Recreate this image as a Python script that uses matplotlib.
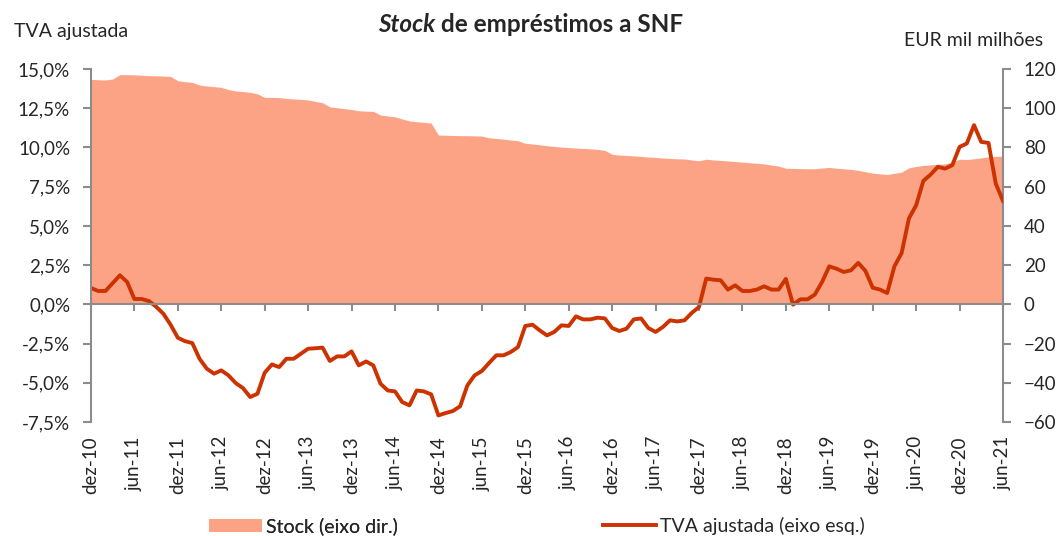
import matplotlib
matplotlib.use("Agg")
import matplotlib.pyplot as plt
from matplotlib.lines import Line2D
from matplotlib.patches import Patch
import matplotlib.transforms as mtransforms

plt.rcParams['font.family'] = ['Lato', 'DejaVu Sans']

# monthly data, dez-10 .. jun-21
months = list(range(127))
tick_pos = list(range(0, 127, 6))
tick_labels = ['dez-10', 'jun-11', 'dez-11', 'jun-12', 'dez-12', 'jun-13', 'dez-13',
               'jun-14', 'dez-14', 'jun-15', 'dez-15', 'jun-16', 'dez-16', 'jun-17',
               'dez-17', 'jun-18', 'dez-18', 'jun-19', 'dez-19', 'jun-20', 'dez-20', 'jun-21']

# stock (EUR mil milhoes, right axis)
stock = [114.7, 114.5, 114.4, 114.9, 117.1, 117.1, 117.0, 116.8, 116.6, 116.5,
         116.4, 116.2, 114.0, 113.5, 113.2, 111.8, 111.3, 111.0, 110.6, 109.5,
         108.8, 108.5, 108.1, 107.3, 105.5, 105.5, 105.4, 105.0, 104.7, 104.5,
         104.2, 103.5, 102.8, 100.7, 100.2, 99.8, 99.3, 98.7, 98.5, 98.4,
         96.5, 96.0, 95.6, 94.5, 93.5, 93.1, 92.8, 92.4, 86.3, 86.2,
         86.1, 86.0, 86.0, 85.9, 85.8, 84.9, 84.6, 84.2, 83.8, 83.4,
         82.1, 81.8, 81.3, 80.9, 80.5, 80.2, 79.9, 79.7, 79.5, 79.3,
         79.0, 78.5, 76.5, 76.1, 75.9, 75.7, 75.4, 75.1, 74.9, 74.6,
         74.4, 74.2, 74.1, 73.6, 73.2, 74.0, 73.6, 73.4, 73.1, 72.8,
         72.5, 72.2, 71.9, 71.6, 71.0, 70.5, 69.4, 69.3, 69.2, 69.1,
         69.1, 69.5, 69.8, 69.4, 69.1, 68.8, 68.3, 67.6, 66.9, 66.5,
         66.2, 66.8, 67.4, 69.6, 70.3, 70.8, 71.1, 71.4, 71.6, 72.5,
         74.0, 73.8, 74.2, 74.7, 75.2, 75.4, 75.6]

# TVA ajustada (%, left axis)
tva = [1.04, 0.85, 0.85, 1.35, 1.85, 1.42, 0.34, 0.34, 0.21, -0.15,
       -0.6, -1.3, -2.13, -2.35, -2.47, -3.47, -4.1, -4.42, -4.21, -4.53,
       -5.02, -5.34, -5.91, -5.70, -4.36, -3.83, -4.0, -3.47, -3.47, -3.15,
       -2.83, -2.8, -2.76, -3.61, -3.32, -3.32, -3.0, -3.89, -3.64, -3.89,
       -5.06, -5.49, -5.55, -6.23, -6.44, -5.49, -5.55, -5.74, -7.08, -6.93,
       -6.80, -6.5, -5.17, -4.53, -4.25, -3.74, -3.25, -3.25, -3.04, -2.72,
       -1.38, -1.30, -1.66, -1.98, -1.76, -1.34, -1.38, -0.77, -0.96, -0.96,
       -0.85, -0.9, -1.51, -1.70, -1.55, -0.96, -0.9, -1.51, -1.76, -1.45,
       -1.02, -1.09, -1.02, -0.55, -0.17, 1.64, 1.57, 1.53, 0.94, 1.21,
       0.85, 0.85, 0.94, 1.15, 0.94, 0.94, 1.62, -0.02, 0.32, 0.32,
       0.62, 1.42, 2.42, 2.27, 2.06, 2.17, 2.64, 2.13, 1.06, 0.94,
       0.72, 2.42, 3.27, 5.47, 6.31, 7.87, 8.27, 8.76, 8.65, 8.87,
       10.03, 10.25, 11.42, 10.35, 10.29, 7.70, 6.59]

left_ticks = [-7.5, -5.0, -2.5, 0.0, 2.5, 5.0, 7.5, 10.0, 12.5, 15.0]
left_labels = ['-7,5%', '-5,0%', '-2,5%', '0,0%', '2,5%', '5,0%', '7,5%', '10,0%', '12,5%', '15,0%']
right_ticks = [-60, -40, -20, 0, 20, 40, 60, 80, 100, 120]

area_col = '#FCA385'
line_col = '#CC3300'
grey = '#8C8C8C'
txt = '#262626'

fig = plt.figure(figsize=(10.59, 5.36), dpi=100)
ax = fig.add_axes([0.0859, 0.2127, 0.8612, 0.6586])
ax2 = ax.twinx()

ax2.fill_between(months, 0, stock, color=area_col, lw=0)
ax.plot(months, tva, color=line_col, lw=2.8, solid_joinstyle='round')

# line above the area
ax.set_zorder(ax2.get_zorder() + 1)
ax.patch.set_visible(False)

ax.set_xlim(0, 126)
ax.set_ylim(-7.5, 15)
ax2.set_ylim(-60, 120)

for a in (ax, ax2):
    a.spines['top'].set_visible(False)
ax2.spines['bottom'].set_visible(False)
ax2.spines['left'].set_visible(False)
ax.spines['right'].set_visible(False)
ax.spines['bottom'].set_position(('data', 0))
for s in ('left', 'bottom'):
    ax.spines[s].set_color(grey)
    ax.spines[s].set_linewidth(1.5)
ax2.spines['right'].set_color(grey)
ax2.spines['right'].set_linewidth(1.5)

ax.set_yticks(left_ticks)
ax.set_yticklabels(left_labels)
ax2.set_yticks(right_ticks)
ax.tick_params(axis='y', length=6, width=1.5, color=grey, labelsize=13.5, labelcolor=txt, pad=9)
ax2.tick_params(axis='y', length=6, width=1.5, color=grey, labelsize=13.5, labelcolor=txt, pad=9)
ax.set_xticks(tick_pos)
ax.tick_params(axis='x', direction='out', length=5, width=1.5, color=grey, labelbottom=False)

trans = mtransforms.blended_transform_factory(ax.transData, ax.transAxes)
for p, lab in zip(tick_pos, tick_labels):
    ax.text(p, -0.04, lab, transform=trans, rotation=90, ha='center', va='top',
            fontsize=13.5, color=txt)

# titles
t1 = fig.text(378 / 1059, 1 - 25 / 536, 'Stock', fontsize=17.5, fontweight='bold',
              fontstyle='italic', ha='left', va='center', color=txt)
ax.annotate(' de empréstimos a SNF', xy=(1, 0), xycoords=t1, fontsize=17.5,
            fontweight='bold', ha='left', va='bottom', color=txt, annotation_clip=False)
fig.text(14 / 1059, 1 - 31 / 536, 'TVA ajustada', fontsize=14, ha='left', va='center', color=txt)
fig.text(1043 / 1059, 1 - 40 / 536, 'EUR mil milhões', fontsize=14, ha='right', va='center', color=txt)

# legend
h1 = Patch(facecolor=area_col, edgecolor='none')
h2 = Line2D([0], [0], color=line_col, lw=2.8)
leg1 = fig.legend([h1], ['Stock (eixo dir.)'], loc='center left',
                  bbox_to_anchor=(209 / 1059, 1 - 526 / 536), frameon=False,
                  fontsize=14, borderpad=0, borderaxespad=0, handlelength=2.7,
                  handleheight=0.65, handletextpad=0.25, labelcolor=txt)
leg2 = fig.legend([h2], ['TVA ajustada (eixo esq.)'], loc='center left',
                  bbox_to_anchor=(603 / 1059, 1 - 526 / 536), frameon=False,
                  fontsize=14, borderpad=0, borderaxespad=0, handlelength=2.7,
                  handletextpad=0.25, labelcolor=txt)
fig.add_artist(leg1)

fig.savefig('out.png', dpi=100)
